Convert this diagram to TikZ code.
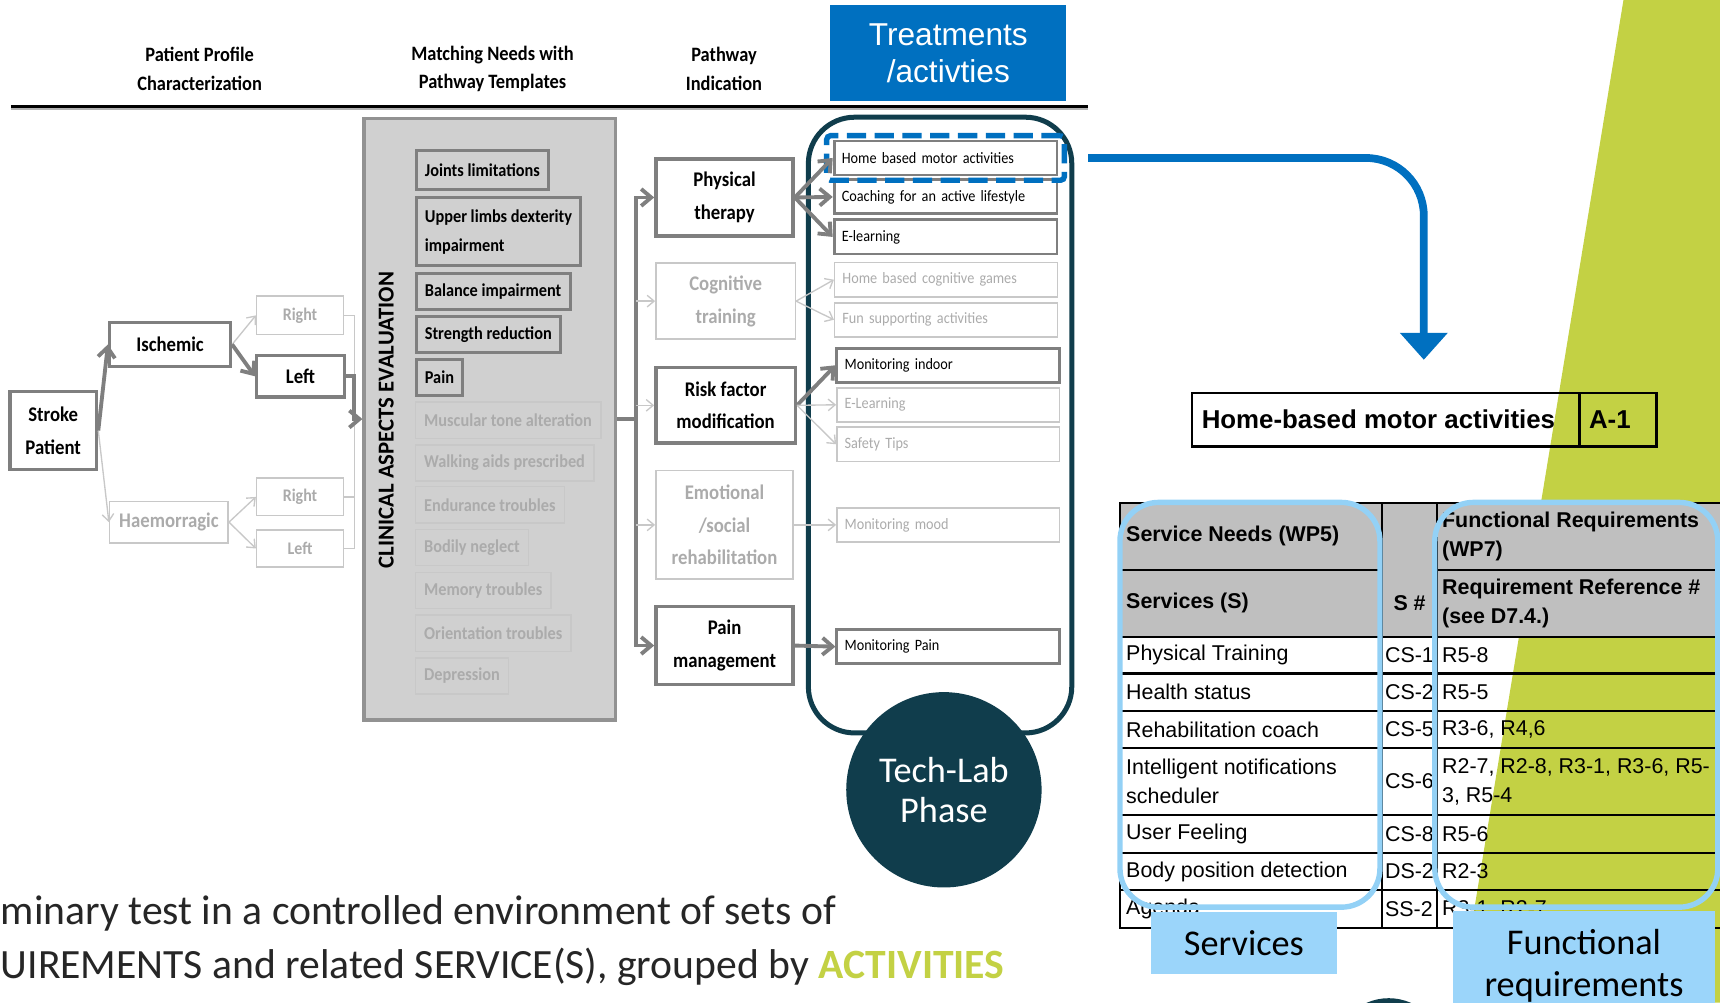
\documentclass[tikz,border=0pt]{standalone}
\usepackage{fontspec}
\setmainfont{Carlito}
\newfontfamily\flowfont[FakeStretch=0.9]{Carlito}
\newfontfamily\arialfont{Liberation Sans}
\usetikzlibrary{arrows.meta,fit}

\definecolor{techteal}{HTML}{103D4C}
\definecolor{actblue}{HTML}{0070C0}
\definecolor{skyline}{HTML}{93D1F6}
\definecolor{skyfill}{HTML}{9BD5FA}
\definecolor{limegreen}{HTML}{C3D144}
\definecolor{flowgray}{HTML}{7F7F7F}
\definecolor{fadegray}{HTML}{C8C8C8}
\definecolor{fadetext}{HTML}{ABABAB}
\definecolor{panelgray}{HTML}{D0D0D0}
\definecolor{headgray}{HTML}{BFBFBF}

\tikzset{
  hdtext/.style={font=\flowfont\bfseries\fontsize{5.3pt}{7.4pt}\selectfont, align=center},
  bigbox/.style={draw=flowgray, line width=0.9pt, align=center, inner sep=0pt,
    font=\flowfont\bfseries\fontsize{5.4pt}{8.5pt}\selectfont},
  fadebig/.style={bigbox, draw=fadegray, line width=0.4pt, text=fadetext},
  clinbox/.style={draw=flowgray, line width=0.75pt, anchor=north west, inner xsep=0.8mm,
    inner ysep=0pt, minimum height=3.3mm, align=left,
    font=\flowfont\bfseries\fontsize{4.7pt}{7.4pt}\selectfont},
  clinfade/.style={clinbox, draw=fadegray, line width=0.4pt, text=fadetext},
  actbox/.style={draw=flowgray, line width=0.75pt, minimum width=20.3mm, minimum height=3.1mm,
    text width=18.9mm, inner xsep=0.7mm, inner ysep=0pt, align=left,
    font=\flowfont\fontsize{4.1pt}{5pt}\selectfont},
  actfade/.style={actbox, draw=fadegray, line width=0.4pt, text=fadetext},
  darkline/.style={draw=flowgray, line width=1pt},
  fadeline/.style={draw=fadegray, line width=0.35pt},
  darkarrow/.style={darkline, -{Straight Barb[length=2.6pt,width=4.4pt]}},
  fadearrow/.style={fadeline, -{Straight Barb[length=1.8pt,width=3pt]}},
  cell/.style={anchor=west, inner sep=0pt, align=left, font=\arialfont\fontsize{5.55pt}{7.6pt}\selectfont},
  headcell/.style={cell, font=\arialfont\bfseries\fontsize{5.55pt}{7.6pt}\selectfont},
  skybox/.style={draw=skyline, line width=1.4pt, rounded corners=10pt},
  skylabel/.style={fill=skyfill, inner sep=0pt, align=center, font=\fontsize{9.4pt}{10.8pt}\selectfont}
}

\begin{document}
\begin{tikzpicture}[x=0.01cm, y=-0.01cm]
    \useasboundingbox (0,0) rectangle (1568,914);

    % 背景
    \fill[limegreen] (1480,0) -- (1568,0) -- (1568,914) -- (1330,914) -- cycle;

    % 标题
    \node[hdtext] (hdprofile) at (182,63) {Patient Profile\\Characterization};
    \node[hdtext] (hdmatch) at (449,63) {Matching Needs with\\Pathway Templates};
    \node[hdtext] (hdpath) at (660,63) {Pathway\\Indication};
    \node[fill=actblue, text=white, minimum width=21.5mm, minimum height=8.7mm, inner sep=0pt,
      align=center, font=\arialfont\fontsize{8.2pt}{9.7pt}\selectfont] (treat) at (864.5,48.5) {Treatments\\/activties};
    \draw[gray!60, line width=0.6pt] (10,99.5) -- (992,99.5);
    \draw[black, line width=0.85pt] (10,97) -- (992,97);

    % 患者
    \node[bigbox, minimum width=7.9mm, minimum height=7.1mm] (sp) at (48.5,392.5) {Stroke\\Patient};
    \node[bigbox, minimum width=11mm, minimum height=4mm] (isc) at (155,314) {Ischemic};
    \node[fadebig, minimum width=10.8mm, minimum height=3.8mm] (hae) at (154,476) {Haemorragic};
    \node[fadebig, minimum width=7.9mm, minimum height=3.5mm, font=\flowfont\bfseries\fontsize{4.6pt}{5.5pt}\selectfont] (irt) at (273.5,287.5) {Right};
    \node[bigbox, minimum width=8mm, minimum height=3.8mm] (ilt) at (274,343) {Left};
    \node[fadebig, minimum width=7.9mm, minimum height=3.4mm, font=\flowfont\bfseries\fontsize{4.6pt}{5.5pt}\selectfont] (hrt) at (273.5,453) {Right};
    \node[fadebig, minimum width=7.9mm, minimum height=3.4mm, font=\flowfont\bfseries\fontsize{4.6pt}{5.5pt}\selectfont] (hlt) at (273.5,500) {Left};

    % 临床评估
    \node[draw=flowgray!85, fill=panelgray, line width=0.9pt, minimum width=22.9mm, minimum height=54.8mm, inner sep=0pt] (panel) at (446.5,382) {};
    \node[rotate=90, inner sep=0pt, font=\bfseries\fontsize{5.9pt}{7pt}\selectfont] (clinlabel) at (352,383) {CLINICAL ASPECTS EVALUATION};
    \node[clinbox, minimum height=3.5mm] (joints) at (378,136) {Joints limitations};
    \node[clinbox, minimum height=6.2mm] (upper) at (378,179) {Upper limbs dexterity\\impairment};
    \node[clinbox] (balance) at (378,248) {Balance impairment};
    \node[clinbox] (strength) at (378,287) {Strength reduction};
    \node[clinbox] (pain) at (378,326) {Pain};
    \node[clinfade] (muscular) at (378,366) {Muscular tone alteration};
    \node[clinfade] (walking) at (378,405) {Walking aids prescribed};
    \node[clinfade] (endurance) at (378,443) {Endurance troubles};
    \node[clinfade] (neglect) at (378,482) {Bodily neglect};
    \node[clinfade] (memory) at (378,521) {Memory troubles};
    \node[clinfade] (orient) at (378,560) {Orientation troubles};
    \node[clinfade] (depress) at (378,599) {Depression};

    % 路径
    \node[bigbox, minimum width=12.5mm, minimum height=7mm] (phys) at (660.5,180) {Physical\\therapy};
    \node[fadebig, minimum width=12.7mm, minimum height=6.9mm] (cog) at (661.5,274.5) {Cognitive\\training};
    \node[bigbox, minimum width=12.7mm, minimum height=6.9mm] (risk) at (661.5,369.5) {Risk factor\\modification};
    \node[fadebig, minimum width=12.5mm, minimum height=9.9mm] (emo) at (660.5,478.5) {Emotional\\/social\\rehabilitation};
    \node[bigbox, minimum width=12.5mm, minimum height=7.1mm] (pmg) at (660.5,588.5) {Pain\\management};

    % 活动
    \node[draw=techteal, line width=1.3pt, rounded corners=12pt, minimum width=24mm, minimum height=56.1mm] (techbox) at (857,387.5) {};
    \node[actbox] (hbm) at (862,144) {Home based motor activities};
    \node[actbox] (coach) at (862,179.5) {Coaching for an active lifestyle};
    \node[actbox] (elearn) at (862,216) {E-learning};
    \node[actfade] (hcg) at (862.5,255) {Home based cognitive games};
    \node[actfade] (fun) at (862.5,291.5) {Fun supporting activities};
    \node[actbox] (mind) at (864.5,333) {Monitoring indoor};
    \node[actfade] (elearnb) at (864.5,369) {E-Learning};
    \node[actfade] (safety) at (864.5,405) {Safety Tips};
    \node[actfade] (mood) at (864.5,478.5) {Monitoring mood};
    \node[actbox] (mpain) at (864.5,589.5) {Monitoring Pain};
    \node[draw=actblue, line width=1.4pt, dash pattern=on 5pt off 2.2pt, rounded corners=1pt,
      inner xsep=0.55mm, inner ysep=0.35mm, fit=(hbm)] (hbmmark) {};
    \node[circle, fill=techteal, text=white, minimum size=17.8mm, inner sep=0pt, align=center,
      font=\fontsize{9.4pt}{10.5pt}\selectfont] (techlab) at (860.5,720) {Tech-Lab\\Phase};

    % 连线
    \coordinate (join) at (323,382);
    \coordinate (bus) at (580,382);
    \draw[fadearrow] (sp.east) -- (hae.west);
    \draw[fadearrow] (isc.east) -- (irt.west);
    \draw[fadearrow] (hae.east) -- (hrt.west);
    \draw[fadearrow] (hae.east) -- (hlt.west);
    \draw[fadeline] (irt.east) -| (join);
    \draw[fadeline] (hrt.east) -| (join);
    \draw[fadeline] (hlt.east) -| (join);
    \draw[darkarrow] (sp.east) -- (isc.west);
    \draw[darkarrow] (isc.east) -- (ilt.west);
    \draw[darkarrow] (ilt.east) -| (join) -- (panel.west);
    \draw[darkline] (panel.east) -- (bus);
    \draw[darkarrow] (bus) |- (phys.west);
    \draw[darkarrow] (bus) |- (pmg.west);
    \draw[fadearrow] (bus |- cog.west) -- (cog.west);
    \draw[fadearrow] (bus |- risk.west) -- (risk.west);
    \draw[fadearrow] (bus |- emo.west) -- (emo.west);
    \draw[darkarrow] (phys.east) -- (hbm.west);
    \draw[darkarrow] (phys.east) -- (coach.west);
    \draw[darkarrow] (phys.east) -- (elearn.west);
    \draw[fadearrow] (cog.east) -- (hcg.west);
    \draw[fadearrow] (cog.east) -- (fun.west);
    \draw[darkarrow] (risk.east) -- (mind.west);
    \draw[fadearrow] (risk.east) -- (elearnb.west);
    \draw[fadearrow] (risk.east) -- (safety.west);
    \draw[fadearrow] (emo.east) -- (mood.west);
    \draw[darkarrow] (pmg.east) -- (mpain.west);

    % 蓝色箭头
    \coordinate (arrowstart) at (992,144);
    \coordinate (arrowend) at (1298,328);
    \draw[actblue, line width=2pt, rounded corners=15pt, -{Triangle[length=7pt,width=12pt]}] (arrowstart) -| (arrowend);

    % 活动名称
    \node[draw, line width=0.6pt, minimum width=35.3mm, minimum height=4.9mm] (hbname) at (1263.5,382.5) {};
    \node[draw, line width=0.6pt, minimum width=7mm, minimum height=4.9mm] (hbcode) at (1475,382.5) {};
    \node[anchor=west, inner sep=0pt, font=\arialfont\bfseries\fontsize{6.7pt}{8pt}\selectfont] at ([xshift=0.9mm]hbname.west) {Home-based motor activities};
    \node[anchor=west, inner sep=0pt, font=\arialfont\bfseries\fontsize{6.7pt}{8pt}\selectfont] at ([xshift=0.9mm]hbcode.west) {A-1};

    % 表格
    \fill[headgray] (1021,458.5) rectangle (1575,580.5);
    \draw[line width=0.6pt] (1575,458.5) -- (1021,458.5) -- (1021,846) -- (1575,846);
    \draw[line width=0.6pt] (1260,458.5) -- (1260,846) (1310,458.5) -- (1310,846);
    \draw[line width=0.6pt] (1021,519.5) -- (1260,519.5) (1310,519.5) -- (1575,519.5);
    \draw[line width=0.6pt] (1021,580.5) -- (1575,580.5) (1021,614) -- (1575,614)
      (1021,648) -- (1575,648) (1021,682) -- (1575,682) (1021,743) -- (1575,743)
      (1021,777.5) -- (1575,777.5) (1021,811.5) -- (1575,811.5);

    \node[headcell] at (1026,489) {Service Needs (WP5)};
    \node[headcell] at (1314,489) {Functional Requirements\\(WP7)};
    \node[headcell] at (1026,550) {Services (S)};
    \node[headcell, anchor=center] at (1285,550) {S \#};
    \node[headcell] at (1314,550) {Requirement Reference \#\\(see D7.4.)};

    \node[cell] at (1026,597) {Physical Training};
    \node[cell] at (1262,597) {CS-1};
    \node[cell] at (1314,597) {R5-8};
    \node[cell] at (1026,631) {Health status};
    \node[cell] at (1262,631) {CS-2};
    \node[cell] at (1314,631) {R5-5};
    \node[cell] at (1026,665) {Rehabilitation coach};
    \node[cell] at (1262,665) {CS-5};
    \node[cell] at (1314,665) {R3-6, R4,6};
    \node[cell] at (1026,712.5) {Intelligent notifications\\scheduler};
    \node[cell] at (1262,712.5) {CS-6};
    \node[cell] at (1314,712.5) {R2-7, R2-8, R3-1, R3-6, R5-\\3, R5-4};
    \node[cell] at (1026,760) {User Feeling};
    \node[cell] at (1262,760) {CS-8};
    \node[cell] at (1314,760) {R5-6};
    \node[cell] at (1026,794.5) {Body position detection};
    \node[cell] at (1262,794.5) {DS-2};
    \node[cell] at (1314,794.5) {R2-3};
    \node[cell] at (1026,829) {Agenda};
    \node[cell] at (1262,829) {SS-2};
    \node[cell] at (1314,829) {R3-1, R2-7};

    % 标注
    \draw[skybox] (1021,458) rectangle (1258,827);
    \draw[skybox] (1308,458) rectangle (1566,827);
    \node[skylabel, minimum width=17mm, minimum height=5.7mm] (svlabel) at (1134,859.5) {Services};
    \node[skylabel, anchor=north, minimum width=23.8mm, minimum height=10mm] (frlabel) at (1444,830) {Functional\\requirements};
    \fill[techteal] (1266,960) circle[radius=5mm];

    % 说明
    \node[anchor=west, inner sep=0pt, text=black!85, font=\fontsize{10.8pt}{13.7pt}\selectfont] (note1) at (0,833) {minary test in a controlled environment of sets of};
    \node[anchor=west, inner sep=0pt, text=black!85, font=\fontsize{10.8pt}{13.7pt}\selectfont] (note2) at (0,881) {UIREMENTS and related SERVICE(S), grouped by {\color{limegreen}\bfseries ACTIVITIES}};
  \end{tikzpicture}
\end{document}
